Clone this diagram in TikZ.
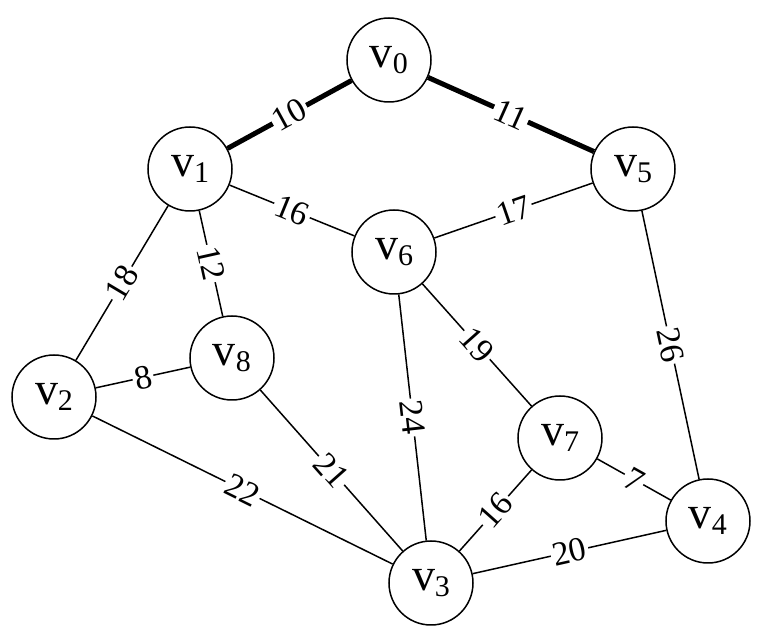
\documentclass[tikz,border=0pt]{standalone}
\usepackage{fontspec}
\setmainfont{Liberation Serif}
\usetikzlibrary{positioning}

\newcommand{\vtx}[1]{v\raisebox{-0.3ex}{\fontsize{15}{15}\selectfont #1}}

\begin{document}
\begin{tikzpicture}[x=0.5pt, y=-0.5pt,
    vertex/.style={circle, draw, line width=0.75pt, minimum size=42pt, inner sep=0pt, font=\fontsize{23}{24}\selectfont},
    weight/.style={fill=white, inner sep=1pt, sloped, font=\fontsize{17}{20}\selectfont},
    every path/.style={line width=0.75pt},
    tree/.style={line width=2.5pt}]

    \useasboundingbox (0,0) rectangle (768,641);

    \node[vertex] (v0) at (389,60) {\vtx{0}};
    \node[vertex] (v1) at (190,169) {\vtx{1}};
    \node[vertex] (v5) at (633,169) {\vtx{5}};
    \node[vertex] (v6) at (394,252) {\vtx{6}};
    \node[vertex] (v2) at (54,397) {\vtx{2}};
    \node[vertex] (v8) at (232,358) {\vtx{8}};
    \node[vertex] (v7) at (560,438) {\vtx{7}};
    \node[vertex] (v4) at (708,521) {\vtx{4}};
    \node[vertex] (v3) at (431,583) {\vtx{3}};

    \draw[tree] (v1) -- node[weight] {10} (v0);
    \draw[tree] (v0) -- node[weight] {11} (v5);
    \draw (v1) -- node[weight] {16} (v6);
    \draw (v6) -- node[weight] {17} (v5);
    \draw (v2) -- node[weight] {18} (v1);
    \draw (v1) -- node[weight] {12} (v8);
    \draw (v2) -- node[weight] {8} (v8);
    \draw (v2) -- node[weight] {22} (v3);
    \draw (v8) -- node[weight] {21} (v3);
    \draw (v6) -- node[weight] {24} (v3);
    \draw (v6) -- node[weight] {19} (v7);
    \draw (v5) -- node[weight] {26} (v4);
    \draw (v3) -- node[weight] {16} (v7);
    \draw (v7) -- node[weight] {7} (v4);
    \draw (v3) -- node[weight] {20} (v4);

\end{tikzpicture}
\end{document}
